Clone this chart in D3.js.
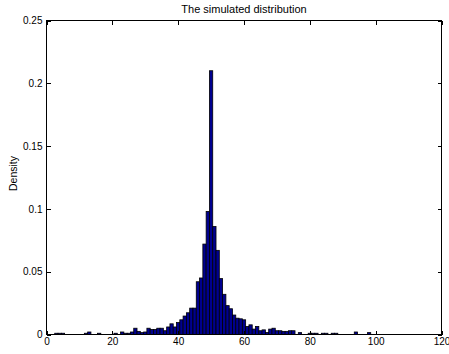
<!DOCTYPE html>
<html>
<head>
<meta charset="utf-8">
<script src="https://cdn.jsdelivr.net/npm/d3@7"></script>
<style>
  html, body { margin: 0; padding: 0; background: #fff; }
  svg { display: block; }
  text { font-family: "Liberation Sans", Arial, Helvetica, sans-serif; fill: #000; }
</style>
</head>
<body>
<div id="chart"></div>
<script>
// Bin centers (integer values) and their densities
const binCenters = [3, 4, 5, 12, 13, 16, 21, 23, 24, 25, 26, 27, 28, 29, 30,
  31, 32, 33, 34, 35, 36, 37, 38, 39, 40, 41, 42, 43, 44, 45, 46, 47, 48, 49, 50,
  51, 52, 53, 54, 55, 56, 57, 58, 59, 60, 61, 62, 63, 64, 65, 66, 67, 68, 69, 70,
  71, 72, 73, 74, 75, 77, 80, 81, 82, 84, 85, 87, 88, 94, 98];
const densities = [0.001, 0.001, 0.001, 0.001, 0.002, 0.001, 0.001, 0.002, 0.001, 0.001, 0.002, 0.005, 0.0025, 0.0015, 0.002,
  0.005, 0.004, 0.004, 0.005, 0.005, 0.003, 0.006, 0.0085, 0.006, 0.0095, 0.0117, 0.0147, 0.0173, 0.021, 0.021, 0.042, 0.045, 0.072, 0.098, 0.21,
  0.086, 0.067, 0.0445, 0.032, 0.023, 0.0205, 0.0155, 0.013, 0.0125, 0.0117, 0.0064, 0.0077, 0.0043, 0.0064, 0.003, 0.0037, 0.0016, 0.0043, 0.005, 0.003,
  0.003, 0.0025, 0.0025, 0.003, 0.003, 0.0015, 0.001, 0.001, 0.001, 0.001, 0.001, 0.001, 0.001, 0.002, 0.0015];
const binWidth = 1;
const xTicks = [0, 20, 40, 60, 80, 100, 120];
const yTicks = [0, 0.05, 0.1, 0.15, 0.2, 0.25];
const yTickLabels = ["0", "0.05", "0.1", "0.15", "0.2", "0.25"];
const titleText = "The simulated distribution";
const yLabelText = "Density";

const W = 449, H = 354;
const L = 46.5, R = 441.5, T = 20.5, B = 334.5;

const svg = d3.select("#chart").append("svg").attr("width", W).attr("height", H);

const x = d3.scaleLinear().domain([0, 120]).range([L, R]);
const y = d3.scaleLinear().domain([0, 0.25]).range([B, T]);

const data = binCenters.map((c, i) => ({ c, v: densities[i] }));

// bars
svg.append("g").selectAll("rect").data(data).enter().append("rect")
  .attr("x", d => x(d.c - binWidth / 2))
  .attr("width", d => x(d.c + binWidth / 2) - x(d.c - binWidth / 2))
  .attr("y", d => y(d.v))
  .attr("height", d => y(0) - y(d.v))
  .attr("fill", "#00008f")
  .attr("stroke", "#000")
  .attr("stroke-width", 0.8);

// box
svg.append("rect").attr("x", L).attr("y", T).attr("width", R - L).attr("height", B - T)
  .attr("fill", "none").attr("stroke", "#000").attr("stroke-width", 1)
  .attr("shape-rendering", "crispEdges");

const tl = 4;
// axes via d3 (inward ticks)
const xAxis = d3.axisBottom(x).tickValues(xTicks).tickSize(-tl).tickPadding(3).tickFormat(d3.format("d"));
const gx = svg.append("g").attr("transform", `translate(0,${B})`).call(xAxis);
const xTop = d3.axisTop(x).tickValues(xTicks).tickSize(-tl).tickFormat("");
const gxt = svg.append("g").attr("transform", `translate(0,${T})`).call(xTop);
const yAxis = d3.axisLeft(y).tickValues(yTicks).tickSize(-tl).tickPadding(4)
  .tickFormat((d, i) => yTickLabels[i]);
const gy = svg.append("g").attr("transform", `translate(${L},0)`).call(yAxis);
const yRight = d3.axisRight(y).tickValues(yTicks).tickSize(-tl).tickFormat("");
const gyr = svg.append("g").attr("transform", `translate(${R},0)`).call(yRight);

[gx, gxt, gy, gyr].forEach(g => {
  g.select(".domain").remove();
  g.selectAll("line").attr("stroke", "#000").attr("shape-rendering", "crispEdges");
  g.selectAll("text").attr("font-size", "10px").attr("font-family", "'Liberation Sans', Arial, sans-serif").attr("fill", "#000");
});

svg.append("text").attr("x", (L + R) / 2).attr("y", 13).attr("text-anchor", "middle")
  .attr("font-size", "11px").text(titleText);

svg.append("text").attr("transform", `translate(17,${(T + B) / 2 - 4}) rotate(-90)`)
  .attr("text-anchor", "middle").attr("font-size", "10.5px").text(yLabelText);
</script>
</body>
</html>
